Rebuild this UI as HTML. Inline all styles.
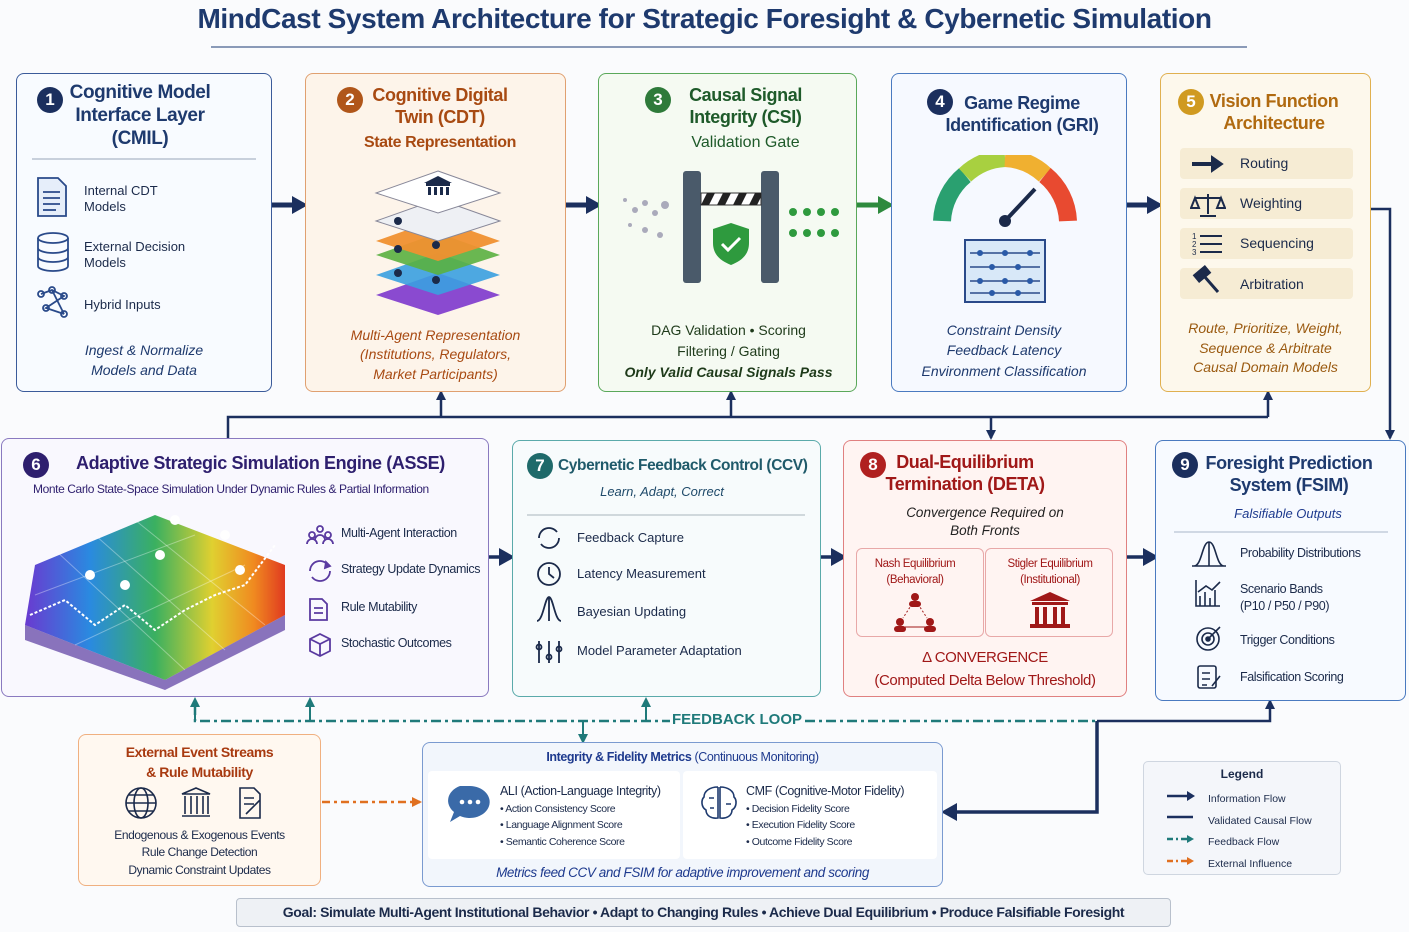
<!DOCTYPE html>
<html><head><meta charset="utf-8">
<style>
*{box-sizing:border-box;margin:0;padding:0}
body{width:1409px;height:932px;background:#fafbfd;font-family:"Liberation Sans",sans-serif;position:relative;overflow:hidden;color:#1b2a4a}
.a{position:absolute}
.box{position:absolute;border:1.5px solid;border-radius:8px}
.t{position:absolute;text-align:center;font-weight:bold;line-height:1.2;white-space:nowrap}
.num{display:inline-block;width:26px;height:26px;border-radius:50%;color:#fff;font-size:17px;line-height:26px;text-align:center;font-weight:bold}
.it{font-style:italic}
.row{position:absolute;font-size:13px;display:flex;align-items:center;white-space:nowrap}
.ls{letter-spacing:-0.4px}
</style></head><body>

<div class="t ls" style="left:0;width:1409px;top:2px;font-size:28px;color:#1e3a6e">MindCast System Architecture for Strategic Foresight &amp; Cybernetic Simulation</div>
<div class="a" style="left:211px;top:46px;width:1036px;height:1.5px;background:#8a9ab8"></div>

<svg class="a" style="left:0;top:0" width="1409" height="932">
<defs>
<marker id="an" markerWidth="10" markerHeight="10" refX="8" refY="5" orient="auto" markerUnits="userSpaceOnUse"><path d="M0,0 L10,5 L0,10z" fill="#1b2f5e"/></marker>
<marker id="aN" markerWidth="16" markerHeight="18" refX="12" refY="9" orient="auto" markerUnits="userSpaceOnUse"><path d="M0,0 L16,9 L0,18z" fill="#1b2f5e"/></marker>
<marker id="ag" markerWidth="16" markerHeight="18" refX="12" refY="9" orient="auto" markerUnits="userSpaceOnUse"><path d="M0,0 L16,9 L0,18z" fill="#2e8a3e"/></marker>
<marker id="at" markerWidth="10" markerHeight="10" refX="8" refY="5" orient="auto" markerUnits="userSpaceOnUse"><path d="M0,0 L10,5 L0,10z" fill="#1f7a7a"/></marker>
<marker id="ao" markerWidth="10" markerHeight="10" refX="8" refY="5" orient="auto" markerUnits="userSpaceOnUse"><path d="M0,0 L10,5 L0,10z" fill="#e07020"/></marker>
</defs>
<g stroke="#1b2f5e" stroke-width="5" fill="none">
<line x1="272" y1="205" x2="304" y2="205" marker-end="url(#aN)"/>
<line x1="566" y1="205" x2="598" y2="205" marker-end="url(#aN)"/>
<line x1="1127" y1="205" x2="1159" y2="205" marker-end="url(#aN)"/>
</g>
<line x1="857" y1="205" x2="890" y2="205" stroke="#2e8a3e" stroke-width="5" marker-end="url(#ag)"/>
<g stroke="#1b2f5e" stroke-width="2.5" fill="none">
<polyline points="1371,209 1390,209 1390,438" marker-end="url(#an)"/>
<polyline points="228,438 228,417 1268,417"/>
<line x1="441" y1="417" x2="441" y2="392" marker-end="url(#an)"/>
<line x1="731" y1="417" x2="731" y2="392" marker-end="url(#an)"/>
<line x1="1268" y1="417" x2="1268" y2="392" marker-end="url(#an)"/>
<line x1="991" y1="417" x2="991" y2="438" marker-end="url(#an)"/>
</g>
<g stroke="#1b2f5e" stroke-width="3.5" fill="none">
<line x1="489" y1="557" x2="511" y2="557" marker-end="url(#aN)"/>
<line x1="821" y1="557" x2="843" y2="557" marker-end="url(#aN)"/>
<line x1="1127" y1="557" x2="1155" y2="557" marker-end="url(#aN)"/>
<polyline points="1097,721 1270,721 1270,701" stroke-width="2.5" marker-end="url(#an)"/>
<polyline points="1097,721 1097,812 945,812" marker-end="url(#aN)"/>
</g>
<g stroke="#1f7a7a" stroke-width="2.5" fill="none" stroke-dasharray="10,4,3,4">
<polyline points="195,705 195,721 670,721"/>
<line x1="805" y1="721" x2="1097" y2="721"/>
</g>
<g stroke="#1f7a7a" stroke-width="2" fill="none">
<line x1="310" y1="721" x2="310" y2="699" marker-end="url(#at)"/>
<line x1="195" y1="721" x2="195" y2="699" marker-end="url(#at)"/>
<line x1="646" y1="721" x2="646" y2="699" marker-end="url(#at)"/>
<line x1="583" y1="721" x2="583" y2="742" marker-end="url(#at)"/>
</g>
<line x1="322" y1="802" x2="420" y2="802" stroke="#e07020" stroke-width="2.5" stroke-dasharray="8,4,3,4" marker-end="url(#ao)"/>
</svg>
<div class="t" style="left:672px;top:711px;width:130px;font-size:15px;color:#1f7a7a">FEEDBACK LOOP</div>

<!-- Box 1 -->
<div class="box" style="left:16px;top:73px;width:256px;height:319px;border-color:#3b5b9a;background:#f8fbff"></div>
<div class="a" style="left:37px;top:87px"><span class="num" style="background:#1b2f5e">1</span></div>
<div class="t ls" style="left:60px;top:82px;width:160px;font-size:19px;color:#1e3a6e">Cognitive Model<br>Interface Layer<br>(CMIL)</div>
<div class="a" style="left:32px;top:158px;width:224px;height:1.5px;background:#c8d0dc"></div>
<svg class="a" style="left:36px;top:176px" width="40" height="150" fill="none" stroke="#2a4a8a" stroke-width="1.8">
<path d="M2,2 h20 l8,8 v30 h-28z" fill="#e6eefa"/><line x1="7" y1="16" x2="24" y2="16"/><line x1="7" y1="22" x2="24" y2="22"/><line x1="7" y1="28" x2="24" y2="28"/><line x1="7" y1="34" x2="20" y2="34"/>
<ellipse cx="17" cy="62" rx="15" ry="5"/><path d="M2,62 v28 a15,5 0 0 0 30,0 v-28 M2,72 a15,5 0 0 0 30,0 M2,81 a15,5 0 0 0 30,0"/>
<circle cx="5" cy="118" r="3"/><circle cx="16" cy="114" r="3"/><circle cx="28" cy="120" r="3"/><circle cx="10" cy="132" r="3"/><circle cx="28" cy="138" r="3"/><path d="M5,118 L16,114 L28,120 L10,132 L28,138 M16,114 L28,138"/>
</svg>
<div class="row" style="left:84px;top:183px;line-height:1.25">Internal CDT<br>Models</div>
<div class="row" style="left:84px;top:239px;line-height:1.25">External Decision<br>Models</div>
<div class="row" style="left:84px;top:297px">Hybrid Inputs</div>
<div class="t it" style="left:16px;top:341px;width:256px;font-size:14px;font-weight:normal;color:#1e3a6e;line-height:1.4">Ingest &amp; Normalize<br>Models and Data</div>

<!-- Box 2 -->
<div class="box" style="left:305px;top:73px;width:261px;height:319px;border-color:#e0a070;background:#fdf4ea"></div>
<div class="a" style="left:337px;top:87px"><span class="num" style="background:#b0561a">2</span></div>
<div class="t ls" style="left:360px;top:85px;width:160px;font-size:18px;color:#a84a12">Cognitive Digital<br>Twin (CDT)</div>
<div class="t ls" style="left:305px;top:133px;width:270px;font-size:16px;color:#a84a12">State Representation</div>
<svg class="a" style="left:338px;top:165px" width="200" height="150">
<polygon points="100,108 162,130 100,150 38,130" fill="#8a4ad0"/>
<polygon points="100,88 162,110 100,130 38,110" fill="#3aa0e0" opacity=".9"/>
<polygon points="100,68 162,90 100,110 38,90" fill="#5ab040" opacity=".9"/>
<polygon points="100,54 162,76 100,96 38,76" fill="#f09030" opacity=".95"/>
<polygon points="100,34 162,56 100,76 38,56" fill="#eef0f4" stroke="#889"/>
<polygon points="100,6 162,28 100,48 38,28" fill="#fff" stroke="#889"/>
<g fill="#1b2a4a"><rect x="88" y="18" width="24" height="3"/><rect x="90" y="22" width="3" height="8"/><rect x="96" y="22" width="3" height="8"/><rect x="102" y="22" width="3" height="8"/><rect x="108" y="22" width="3" height="8"/><polygon points="86,18 100,11 114,18"/>
<circle cx="60" cy="56" r="4"/><circle cx="98" cy="80" r="4"/><circle cx="60" cy="84" r="4"/><circle cx="98" cy="115" r="4"/><circle cx="60" cy="108" r="4"/></g>
</svg>
<div class="t it" style="left:305px;top:326px;width:261px;font-size:14px;font-weight:normal;color:#a84a12;line-height:1.38">Multi-Agent Representation<br>(Institutions, Regulators,<br>Market Participants)</div>

<!-- Box 3 -->
<div class="box" style="left:598px;top:73px;width:259px;height:319px;border-color:#5aa85a;background:#f5faf2"></div>
<div class="a" style="left:645px;top:87px"><span class="num" style="background:#2e7a3a">3</span></div>
<div class="t ls" style="left:668px;top:85px;width:155px;font-size:18px;color:#1e5a2a">Causal Signal<br>Integrity (CSI)</div>
<div class="t" style="left:598px;top:133px;width:295px;font-size:16px;font-weight:normal;color:#1e5a2a">Validation Gate</div>
<svg class="a" style="left:615px;top:165px" width="240" height="125">
<g fill="#aab"><circle cx="10" cy="35" r="2"/><circle cx="20" cy="45" r="3"/><circle cx="30" cy="38" r="3"/><circle cx="40" cy="48" r="3"/><circle cx="50" cy="40" r="4"/><circle cx="15" cy="60" r="2"/><circle cx="30" cy="65" r="3"/><circle cx="45" cy="70" r="3"/></g>
<rect x="68" y="6" width="18" height="112" rx="3" fill="#4a5a6a"/><rect x="146" y="6" width="18" height="112" rx="3" fill="#4a5a6a"/>
<rect x="86" y="28" width="60" height="12" fill="#fff" stroke="#333"/><g fill="#222"><polygon points="92,28 100,28 94,40 86,40"/><polygon points="108,28 116,28 110,40 102,40"/><polygon points="124,28 132,28 126,40 118,40"/><polygon points="140,28 146,28 146,32 142,40 134,40"/></g>
<path d="M116,58 l18,6 v14 c0,12 -8,18 -18,22 c-10,-4 -18,-10 -18,-22 v-14z" fill="#2e9a3e"/><path d="M107,79 l6,6 l12,-12" stroke="#fff" stroke-width="3" fill="none"/>
<g fill="#2e9a3e"><circle cx="178" cy="47" r="4"/><circle cx="192" cy="47" r="4"/><circle cx="206" cy="47" r="4"/><circle cx="220" cy="47" r="4"/><circle cx="178" cy="68" r="4"/><circle cx="192" cy="68" r="4"/><circle cx="206" cy="68" r="4"/><circle cx="220" cy="68" r="4"/></g>
</svg>
<div class="t" style="left:598px;top:320px;width:261px;font-size:14px;font-weight:normal;color:#1e3a1a;line-height:1.5">DAG Validation • Scoring<br>Filtering / Gating<br><b style="font-style:italic">Only Valid Causal Signals Pass</b></div>

<!-- Box 4 -->
<div class="box" style="left:891px;top:73px;width:236px;height:319px;border-color:#4a7ac0;background:#f6f9ff"></div>
<div class="a" style="left:927px;top:89px"><span class="num" style="background:#1b2f5e">4</span></div>
<div class="t ls" style="left:922px;top:93px;width:200px;font-size:18px;color:#1e3a6e">Game Regime<br>Identification (GRI)</div>
<svg class="a" style="left:930px;top:155px" width="150" height="155">
<path d="M12,66 A63,63 0 0 1 35,20" stroke="#2aa070" stroke-width="18" fill="none"/>
<path d="M35,20 A63,63 0 0 1 75,3" stroke="#a8d040" stroke-width="18" fill="none"/>
<path d="M75,3 A63,63 0 0 1 115,20" stroke="#f0b030" stroke-width="18" fill="none"/>
<path d="M115,20 A63,63 0 0 1 138,66" stroke="#e84a30" stroke-width="18" fill="none"/>
<line x1="75" y1="66" x2="105" y2="34" stroke="#1b2a4a" stroke-width="4"/><circle cx="75" cy="66" r="6" fill="#1b2a4a"/>
<rect x="35" y="85" width="80" height="62" fill="#d8e8f8" stroke="#2a4a8a" stroke-width="2"/>
<g stroke="#2a4a8a" stroke-width="1.5"><line x1="40" y1="98" x2="110" y2="98"/><line x1="40" y1="112" x2="110" y2="112"/><line x1="40" y1="126" x2="110" y2="126"/><line x1="40" y1="138" x2="110" y2="138"/></g>
<g fill="#2a5aa8"><circle cx="50" cy="98" r="3"/><circle cx="75" cy="98" r="3"/><circle cx="100" cy="98" r="3"/><circle cx="62" cy="112" r="3"/><circle cx="88" cy="112" r="3"/><circle cx="50" cy="126" r="3"/><circle cx="75" cy="126" r="3"/><circle cx="100" cy="126" r="3"/><circle cx="62" cy="138" r="3"/><circle cx="88" cy="138" r="3"/></g>
</svg>
<div class="t it" style="left:891px;top:320px;width:226px;font-size:14px;font-weight:normal;color:#1e3a6e;line-height:1.45">Constraint Density<br>Feedback Latency<br>Environment Classification</div>

<!-- Box 5 -->
<div class="box" style="left:1160px;top:73px;width:211px;height:319px;border-color:#e0b050;background:#fdf8ec"></div>
<div class="a" style="left:1178px;top:89px"><span class="num" style="background:#d09a20">5</span></div>
<div class="t ls" style="left:1200px;top:91px;width:148px;font-size:18px;color:#b06a10">Vision Function<br>Architecture</div>
<div class="a" style="left:1180px;top:148px;width:173px;height:31px;background:#f6ecd4;border-radius:4px"></div>
<div class="a" style="left:1180px;top:188px;width:173px;height:31px;background:#f6ecd4;border-radius:4px"></div>
<div class="a" style="left:1180px;top:228px;width:173px;height:31px;background:#f6ecd4;border-radius:4px"></div>
<div class="a" style="left:1180px;top:268px;width:173px;height:31px;background:#f6ecd4;border-radius:4px"></div>
<svg class="a" style="left:1190px;top:152px" width="36" height="145" stroke="#1b2a4a" fill="#1b2a4a" stroke-width="2">
<path d="M2,12 h22" stroke-width="4"/><polygon points="22,5 32,12 22,19"/>
<line x1="18" y1="42" x2="18" y2="62"/><line x1="5" y1="46" x2="31" y2="46"/><path d="M1,56 l4,-10 l4,10z M27,56 l4,-10 l4,10z" fill="none"/><line x1="10" y1="64" x2="26" y2="64"/>
<g font-size="8" stroke="none"><text x="2" y="87">1</text><text x="2" y="95">2</text><text x="2" y="103">3</text></g><line x1="10" y1="84" x2="32" y2="84"/><line x1="10" y1="92" x2="32" y2="92"/><line x1="10" y1="100" x2="32" y2="100"/>
<rect x="5" y="118" width="14" height="8" transform="rotate(-40 12 122)"/><line x1="14" y1="124" x2="28" y2="140" stroke-width="3"/>
</svg>
<div class="row" style="left:1240px;top:155px;font-size:14px">Routing</div>
<div class="row" style="left:1240px;top:195px;font-size:14px">Weighting</div>
<div class="row" style="left:1240px;top:235px;font-size:14px">Sequencing</div>
<div class="row" style="left:1240px;top:276px;font-size:14px">Arbitration</div>
<div class="t it" style="left:1160px;top:319px;width:211px;font-size:14px;font-weight:normal;color:#9a5a10;line-height:1.4">Route, Prioritize, Weight,<br>Sequence &amp; Arbitrate<br>Causal Domain Models</div>

<!-- Box 6 -->
<div class="box" style="left:1px;top:438px;width:488px;height:259px;border-color:#8a7ac0;background:#f9f8fe"></div>
<div class="a" style="left:23px;top:452px"><span class="num" style="background:#2e1f6e">6</span></div>
<div class="t ls" style="left:76px;top:453px;text-align:left;font-size:18px;color:#2e1f6e">Adaptive Strategic Simulation Engine (ASSE)</div>
<div class="a ls" style="left:33px;top:482px;font-size:12px;color:#2e1f6e;white-space:nowrap">Monte Carlo State-Space Simulation Under Dynamic Rules &amp; Partial Information</div>
<svg class="a" style="left:15px;top:505px" width="285" height="185">
<defs><linearGradient id="rb" x1="0" x2="1"><stop offset="0" stop-color="#6a3ad0"/><stop offset=".25" stop-color="#2a8ae0"/><stop offset=".5" stop-color="#3ab060"/><stop offset=".72" stop-color="#e0d030"/><stop offset=".88" stop-color="#f08a20"/><stop offset="1" stop-color="#e03a20"/></linearGradient></defs>
<polygon points="10,120 150,175 270,110 270,60 140,10 20,60" fill="url(#rb)"/>
<polygon points="10,120 150,175 270,110 270,125 150,185 10,135" fill="#5a3aa0" opacity=".7"/>
<g stroke="#fff" stroke-opacity=".35"><line x1="40" y1="45" x2="170" y2="165"/><line x1="80" y1="30" x2="210" y2="145"/><line x1="120" y1="15" x2="250" y2="120"/><line x1="20" y1="90" x2="180" y2="30"/><line x1="60" y1="140" x2="230" y2="60"/></g>
<polyline points="15,110 50,95 80,120 110,100 140,125 170,105 200,90 230,80 260,40" stroke="#fff" stroke-width="2" fill="none" stroke-dasharray="3,2"/>
<g fill="#fff"><circle cx="75" cy="70" r="5"/><circle cx="110" cy="80" r="5"/><circle cx="160" cy="15" r="5"/><circle cx="210" cy="30" r="5"/><circle cx="225" cy="65" r="5"/><circle cx="145" cy="50" r="5"/></g>
</svg>
<svg class="a" style="left:306px;top:524px" width="28" height="135" fill="none" stroke="#5a3aa0" stroke-width="1.8">
<circle cx="14" cy="5" r="3"/><circle cx="6" cy="11" r="3"/><circle cx="22" cy="11" r="3"/><path d="M1,20 a5,5 0 0 1 10,0 M17,20 a5,5 0 0 1 10,0 M9,16 a5,5 0 0 1 10,0"/>
<path d="M4,47 a10,10 0 0 1 18,-6 M24,47 a10,10 0 0 1 -18,6"/><polygon points="20,38 24,42 19,44" fill="#5a3aa0"/>
<path d="M4,75 h12 l5,5 v16 h-17z M8,84 h9 M8,89 h9"/>
<path d="M14,110 l10,5 v12 l-10,5 l-10,-5 v-12z M4,115 l10,5 l10,-5 M14,120 v12"/>
</svg>
<div class="row ls" style="left:341px;top:526px;font-size:12.5px">Multi-Agent Interaction</div>
<div class="row ls" style="left:341px;top:562px;font-size:12.5px">Strategy Update Dynamics</div>
<div class="row ls" style="left:341px;top:600px;font-size:12.5px">Rule Mutability</div>
<div class="row ls" style="left:341px;top:636px;font-size:12.5px">Stochastic Outcomes</div>

<!-- Box 7 -->
<div class="box" style="left:512px;top:440px;width:309px;height:257px;border-color:#5aaaaa;background:#f7fbfc"></div>
<div class="a" style="left:527px;top:453px"><span class="num" style="background:#1f6a6a">7</span></div>
<div class="t ls" style="left:558px;top:457px;text-align:left;font-size:15.5px;color:#1f5a6a">Cybernetic Feedback Control (CCV)</div>
<div class="t it" style="left:512px;top:484px;width:300px;font-size:13px;font-weight:normal;color:#1f4a6a">Learn, Adapt, Correct</div>
<div class="a" style="left:527px;top:514px;width:278px;height:1.5px;background:#d0d8dc"></div>
<svg class="a" style="left:535px;top:525px" width="28" height="145" fill="none" stroke="#1b2a4a" stroke-width="1.8">
<path d="M4,13 a10,10 0 0 1 18,-6 M24,13 a10,10 0 0 1 -18,6"/>
<circle cx="14" cy="49" r="11"/><path d="M14,42 v7 l5,4"/>
<path d="M2,96 c6,0 8,-24 12,-24 c4,0 6,24 12,24 M14,72 v24"/>
<path d="M4,116 v22 M14,116 v22 M24,116 v22"/><circle cx="4" cy="122" r="2.5"/><circle cx="14" cy="132" r="2.5"/><circle cx="24" cy="124" r="2.5"/>
</svg>
<div class="row" style="left:577px;top:530px">Feedback Capture</div>
<div class="row" style="left:577px;top:566px">Latency Measurement</div>
<div class="row" style="left:577px;top:604px">Bayesian Updating</div>
<div class="row" style="left:577px;top:643px">Model Parameter Adaptation</div>

<!-- Box 8 -->
<div class="box" style="left:843px;top:440px;width:284px;height:257px;border-color:#e08080;background:#fff4f2"></div>
<div class="a" style="left:860px;top:452px"><span class="num" style="background:#b02020">8</span></div>
<div class="t ls" style="left:875px;top:452px;width:180px;font-size:18px;color:#a01818">Dual-Equilibrium<br>Termination (DETA)</div>
<div class="t it" style="left:843px;top:504px;width:284px;font-size:13.5px;font-weight:normal;color:#222;line-height:1.35">Convergence Required on<br>Both Fronts</div>
<div class="box" style="left:856px;top:548px;width:128px;height:89px;border-color:#e8a8a8;border-width:1px;border-radius:6px"></div>
<div class="box" style="left:985px;top:548px;width:128px;height:89px;border-color:#e8a8a8;border-width:1px;border-radius:6px"></div>
<div class="t ls" style="left:856px;top:557px;width:118px;font-size:11.5px;font-weight:normal;color:#a01818;line-height:1.35">Nash Equilibrium<br>(Behavioral)</div>
<div class="t ls" style="left:985px;top:557px;width:130px;font-size:11.5px;font-weight:normal;color:#a01818;line-height:1.35">Stigler Equilibrium<br>(Institutional)</div>
<svg class="a" style="left:890px;top:592px" width="200" height="40">
<g fill="#a01818"><circle cx="25" cy="5" r="4"/><circle cx="10" cy="30" r="4"/><circle cx="40" cy="30" r="4"/><rect x="19" y="9" width="12" height="6" rx="3"/><rect x="4" y="34" width="12" height="6" rx="3"/><rect x="34" y="34" width="12" height="6" rx="3"/></g>
<path d="M22,12 L13,26 M28,12 L37,26" stroke="#a01818" stroke-dasharray="2,2"/><line x1="15" y1="35" x2="35" y2="35" stroke="#a01818"/>
<g fill="#a01818"><polygon points="160,0 180,9 140,9"/><rect x="142" y="10" width="36" height="3"/><rect x="145" y="15" width="4" height="17"/><rect x="153" y="15" width="4" height="17"/><rect x="163" y="15" width="4" height="17"/><rect x="171" y="15" width="4" height="17"/><rect x="140" y="32" width="40" height="4"/></g>
</svg>
<div class="t ls" style="left:843px;top:646px;width:284px;font-size:15px;font-weight:normal;color:#a01818;line-height:1.55">Δ CONVERGENCE<br>(Computed Delta Below Threshold)</div>

<!-- Box 9 -->
<div class="box" style="left:1155px;top:440px;width:251px;height:261px;border-color:#4a7ac0;background:#f7faff"></div>
<div class="a" style="left:1172px;top:452px"><span class="num" style="background:#1b2f5e">9</span></div>
<div class="t ls" style="left:1195px;top:453px;width:188px;font-size:18px;color:#1e3a6e">Foresight Prediction<br>System (FSIM)</div>
<div class="t it" style="left:1155px;top:506px;width:266px;font-size:13px;font-weight:normal;color:#1e3a8e">Falsifiable Outputs</div>
<div class="a" style="left:1174px;top:531px;width:214px;height:1.5px;background:#d0d8e4"></div>
<svg class="a" style="left:1192px;top:540px" width="34" height="155" fill="none" stroke="#1b2a4a" stroke-width="1.6">
<path d="M2,26 c8,0 8,-24 15,-24 c7,0 7,24 15,24 M17,2 v24 M0,26 h34"/>
<path d="M4,40 v26 h24 M8,66 v-10 M13,66 v-14 M18,66 v-8 M23,66 v-16 M6,52 l8,-6 l6,4 l8,-8"/>
<circle cx="16" cy="99" r="11"/><circle cx="16" cy="99" r="6"/><circle cx="16" cy="99" r="2" fill="#1b2a4a"/><path d="M16,99 l12,-12"/>
<rect x="6" y="126" width="18" height="22" rx="2"/><path d="M10,133 h8 M10,139 h8 M10,145 h5 M20,146 l8,-10"/>
</svg>
<div class="row ls" style="left:1240px;top:546px;font-size:12.5px">Probability Distributions</div>
<div class="row ls" style="left:1240px;top:581px;font-size:12.5px;line-height:1.35">Scenario Bands<br>(P10 / P50 / P90)</div>
<div class="row ls" style="left:1240px;top:633px;font-size:12.5px">Trigger Conditions</div>
<div class="row ls" style="left:1240px;top:670px;font-size:12.5px">Falsification Scoring</div>

<!-- External box -->
<div class="box" style="left:78px;top:734px;width:243px;height:152px;border-color:#f0b080;background:#fff8f0"></div>
<div class="t ls" style="left:78px;top:743px;width:243px;font-size:14px;color:#a83a10;line-height:1.4">External Event Streams<br>&amp; Rule Mutability</div>
<svg class="a" style="left:122px;top:786px" width="160" height="36" fill="none" stroke="#1b2a4a" stroke-width="1.6">
<circle cx="19" cy="17" r="15"/><ellipse cx="19" cy="17" rx="7" ry="15"/><path d="M4,17 h30 M7,9 h24 M7,25 h24"/>
<path d="M60,8 l14,-6 l14,6z M60,30 h28 M63,10 v18 M69,10 v18 M75,10 v18 M81,10 v18 M86,10 v18"/>
<path d="M118,2 h14 l6,6 v24 h-20z M122,12 h10 M122,18 h10 M124,28 l14,-14"/>
</svg>
<div class="t ls" style="left:78px;top:827px;width:243px;font-size:12px;font-weight:normal;color:#1b2a4a;line-height:1.45">Endogenous &amp; Exogenous Events<br>Rule Change Detection<br>Dynamic Constraint Updates</div>

<!-- Metrics -->
<div class="box" style="left:422px;top:742px;width:521px;height:145px;border-color:#7a9ad0;background:#f2f6fc"></div>
<div class="t ls" style="left:422px;top:750px;width:521px;font-size:12.5px;color:#1e3a8e"><b>Integrity &amp; Fidelity Metrics</b> <span style="font-weight:normal">(Continuous Monitoring)</span></div>
<div class="a" style="left:428px;top:771px;width:252px;height:88px;background:#fff;border-radius:4px"></div>
<div class="a" style="left:683px;top:771px;width:254px;height:88px;background:#fff;border-radius:4px"></div>
<svg class="a" style="left:448px;top:784px" width="50" height="40"><path d="M22,2 a20,16 0 1 1 -10,30 l-10,6 l4,-10 a20,16 0 0 1 6,-26z" fill="#3a6aa8"/><g fill="#fff"><circle cx="14" cy="18" r="2.3"/><circle cx="22" cy="18" r="2.3"/><circle cx="30" cy="18" r="2.3"/></g></svg>
<svg class="a" style="left:700px;top:784px" width="40" height="38" fill="none" stroke="#1e3a6e" stroke-width="1.6"><path d="M18,3 c-8,0 -14,4 -14,10 c-3,3 -3,10 2,13 c0,6 6,9 12,8 v-31 M20,3 c8,0 14,4 14,10 c3,3 3,10 -2,13 c0,6 -6,9 -12,8 v-31 M9,14 h5 M26,20 h5 M10,24 h4"/></svg>
<div class="a ls" style="left:500px;top:783px;font-size:12.5px;line-height:1.4;white-space:nowrap">ALI (Action-Language Integrity)<div style="font-size:10.5px;line-height:1.6">• Action Consistency Score<br>• Language Alignment Score<br>• Semantic Coherence Score</div></div>
<div class="a ls" style="left:746px;top:783px;font-size:12.5px;line-height:1.4;white-space:nowrap">CMF (Cognitive-Motor Fidelity)<div style="font-size:10.5px;line-height:1.6">• Decision Fidelity Score<br>• Execution Fidelity Score<br>• Outcome Fidelity Score</div></div>
<div class="t it ls" style="left:422px;top:865px;width:521px;font-size:13.5px;font-weight:normal;color:#1e3a8e">Metrics feed CCV and FSIM for adaptive improvement and scoring</div>

<!-- Legend -->
<div class="box" style="left:1143px;top:761px;width:198px;height:114px;border-color:#cfd6e0;background:#f4f6fa;border-radius:5px"></div>
<div class="t" style="left:1143px;top:767px;width:198px;font-size:12px">Legend</div>
<svg class="a" style="left:1165px;top:788px" width="32" height="80">
<line x1="2" y1="8" x2="22" y2="8" stroke="#1b2f5e" stroke-width="2.5"/><polygon points="22,3 30,8 22,13" fill="#1b2f5e"/>
<line x1="2" y1="29" x2="28" y2="29" stroke="#1b2f5e" stroke-width="2.5"/>
<line x1="2" y1="51" x2="22" y2="51" stroke="#1f7a7a" stroke-width="2.5" stroke-dasharray="6,3,2,3"/><polygon points="22,47 29,51 22,55" fill="#1f7a7a"/>
<line x1="2" y1="73" x2="22" y2="73" stroke="#e07020" stroke-width="2.5" stroke-dasharray="6,3,2,3"/><polygon points="22,69 29,73 22,77" fill="#e07020"/>
</svg>
<div class="a" style="left:1208px;top:789px;font-size:10.5px;line-height:21.7px;white-space:nowrap">Information Flow<br>Validated Causal Flow<br>Feedback Flow<br>External Influence</div>

<!-- Goal -->
<div class="box" style="left:236px;top:898px;width:935px;height:29px;border-color:#b8c0cc;background:#eef1f5;border-radius:4px;border-width:1px"></div>
<div class="t ls" style="left:236px;top:904px;width:935px;font-size:14px;font-weight:bold;color:#1b2a4a">Goal: Simulate Multi-Agent Institutional Behavior • Adapt to Changing Rules • Achieve Dual Equilibrium • Produce Falsifiable Foresight</div>

</body></html>
